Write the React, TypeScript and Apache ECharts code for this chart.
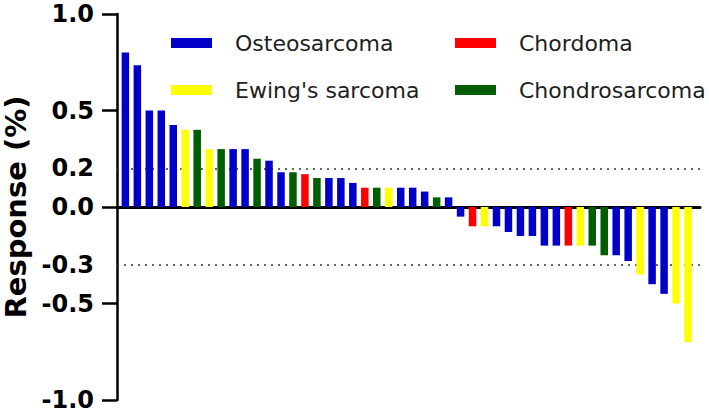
import React, { useEffect, useRef } from "react";
import * as echarts from "echarts";

const TYPE_NAMES = ["Osteosarcoma", "Ewing's sarcoma", "Chordoma", "Chondrosarcoma"];
const TYPE_COLORS = ["#0000C8", "#FFFF00", "#FF0000", "#005E00"];

// category of each case (index into TYPE_NAMES), in waterfall order
const caseType: number[] = [
  0, 0, 0, 0, 0, 1, 3, 1, 3, 0, 0, 3, 0, 0, 3, 2, 3, 0, 0, 0, 2, 3, 1, 0,
  0, 0, 3, 0, 0, 2, 1, 0, 0, 0, 0, 0, 0, 2, 1, 3, 3, 0, 0, 1, 0, 0, 1, 1,
];

// response of each case
const responses: number[] = [
  0.8, 0.735, 0.5, 0.5, 0.425, 0.4, 0.4, 0.3, 0.3, 0.3, 0.3, 0.25, 0.24, 0.18,
  0.18, 0.17, 0.15, 0.15, 0.15, 0.125, 0.1, 0.1, 0.1, 0.1, 0.1, 0.08, 0.05, 0.05,
  -0.05, -0.1, -0.1, -0.1, -0.13, -0.15, -0.15, -0.2, -0.2, -0.2, -0.2, -0.2,
  -0.25, -0.25, -0.28, -0.35, -0.4, -0.45, -0.5, -0.7,
];

const yLabelValues = [-1, -0.5, -0.3, 0, 0.2, 0.5, 1];
const yTickValues = [-1, -0.5, 0, 0.5, 1];
const thresholds = [0.2, -0.3];

export default function App() {
  const ref = useRef<HTMLDivElement>(null);

  useEffect(() => {
    if (!ref.current) return;
    document.body.style.margin = "0";
    const chart = echarts.init(ref.current, undefined, { renderer: "svg" });

    const barSeries = TYPE_NAMES.map((name, t) => ({
      name,
      type: "bar",
      z: 3,
      barWidth: 7.5,
      barGap: "-100%",
      itemStyle: { color: TYPE_COLORS[t] },
      data: responses
        .map((v, i) => (caseType[i] === t ? [i, v] : null))
        .filter((d) => d !== null),
    }));

    const legendText = {
      fontFamily: "DejaVu Sans",
      fontSize: 22,
      lineHeight: 22,
      color: "#1e1e1e",
      padding: [0, 0, 0, 18],
    };

    const legendBase = {
      orient: "vertical",
      top: 32,
      padding: 0,
      itemWidth: 41,
      itemHeight: 10,
      itemGap: 25,
      icon: "rect",
      textStyle: legendText,
      selectedMode: false,
    };

    chart.setOption({
      animation: false,
      backgroundColor: "#ffffff",
      grid: {
        left: 117,
        right: 9,
        top: 14,
        bottom: 13,
        containLabel: false,
        outerBoundsMode: "none",
      },
      legend: [
        { ...legendBase, data: [TYPE_NAMES[0], TYPE_NAMES[1]], left: 171 },
        { ...legendBase, data: [TYPE_NAMES[2], TYPE_NAMES[3]], left: 455 },
      ],
      xAxis: {
        type: "value",
        min: -0.7,
        max: 48,
        axisLine: { show: true, onZero: true, lineStyle: { color: "#000", width: 3 } },
        axisTick: { show: false },
        axisLabel: { show: false },
        splitLine: { show: false },
      },
      yAxis: {
        type: "value",
        min: -1,
        max: 1,
        interval: 0.5,
        name: "Response (%)",
        nameLocation: "middle",
        nameGap: 84,
        nameTextStyle: {
          fontFamily: "DejaVu Sans",
          fontWeight: "bold",
          fontSize: 29,
          color: "#000",
        },
        axisLine: { show: true, onZero: false, lineStyle: { color: "#000", width: 2.5 } },
        axisTick: {
          show: true,
          length: 15,
          customValues: yTickValues,
          lineStyle: { color: "#000", width: 2.5 },
        },
        axisLabel: {
          customValues: yLabelValues,
          margin: 23,
          fontFamily: "DejaVu Sans",
          fontWeight: "bold",
          fontSize: 24,
          color: "#000",
          formatter: (v: number) => v.toFixed(1),
        },
        splitLine: { show: false },
      },
      series: [
        {
          name: "thresholds",
          type: "line",
          z: 1,
          data: [],
          markLine: {
            z: 1,
            silent: true,
            symbol: "none",
            label: { show: false },
            lineStyle: { type: [2, 5], color: "#333", width: 1.6 },
            data: thresholds.map((y) => ({ yAxis: y })),
          },
        },
        ...barSeries,
      ],
    });

    return () => chart.dispose();
  }, []);

  return (
    <div
      ref={ref}
      style={{ position: "fixed", left: 0, top: 0, width: 709, height: 413 }}
    />
  );
}
